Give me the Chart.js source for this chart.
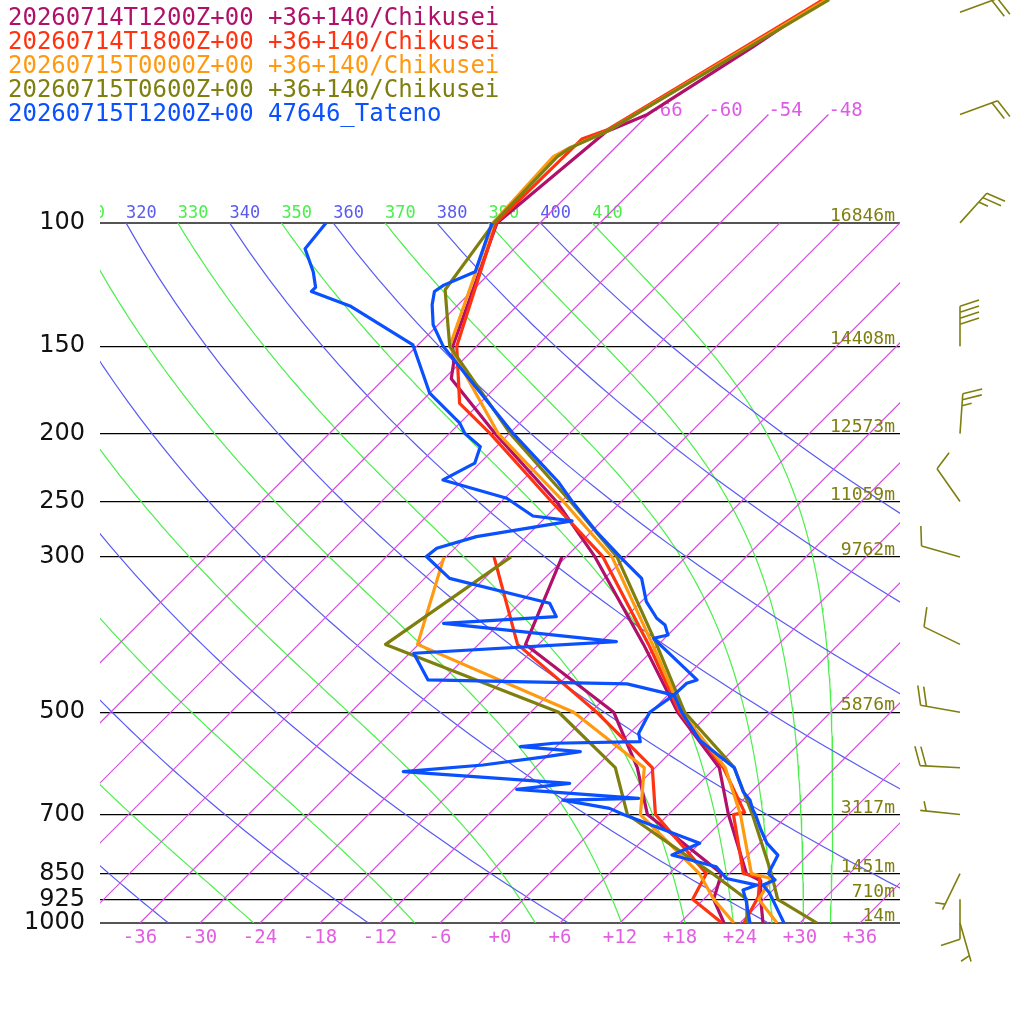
<!DOCTYPE html>
<html>
<head>
<meta charset="utf-8">
<title>Skew-T Chikusei / Tateno</title>
<script src="https://cdn.jsdelivr.net/npm/chart.js@4.4.1/dist/chart.umd.min.js"></script>
<style>
  html, body { margin: 0; padding: 0; background: #fff; }
  #wrap { width: 1024px; height: 1024px; position: relative; }
</style>
</head>
<body>
<div id="wrap"><canvas id="skewt"></canvas></div>
<script>
// ---- values ----
const pressureTicks = [100, 150, 200, 250, 300, 500, 700, 850, 925, 1000];
const heightLabels = ['16846m', '14408m', '12573m', '11059m', '9762m', '5876m', '3117m', '1451m', '710m', '14m'];
const tempTicks = [-36, -30, -24, -18, -12, -6, 0, 6, 12, 18, 24, 30, 36];
const isotherms = [-66, -60, -54, -48, -42, -36, -30, -24, -18, -12, -6, 0, 6, 12, 18, 24, 30, 36];
const labelledIsotherms = [-66, -60, -54, -48];
const dryAdiabats = [240, 260, 280, 300, 320, 340, 360, 380, 400];
const moistAdiabats = [250, 270, 290, 310, 330, 350, 370, 390, 410];

const seriesNames = [
  '20260714T1200Z+00 +36+140/Chikusei',
  '20260714T1800Z+00 +36+140/Chikusei',
  '20260715T0000Z+00 +36+140/Chikusei',
  '20260715T0600Z+00 +36+140/Chikusei',
  '20260715T1200Z+00 47646_Tateno'
];
const seriesColors = ['#b0106a', '#ff3311', '#ff9910', '#7f7f10', '#0a50ff'];

// model temperature profiles (hPa, degC)
const run1P = [48, 56, 70, 74.1, 100, 150, 158.7, 166.9, 200, 250, 300, 400, 500, 600, 700, 850, 870, 925, 1000];
const run1T = [-60.0, -62.3, -66.1, -68.5, -70.3, -62.4, -60.6, -59.3, -49.4, -36.5, -27.1, -13.5, -3.3, 6.4, 12.0, 19.7, 21.8, 23.7, 26.3];
const run2P = [48, 73.7, 75.9, 100, 150, 181, 200, 250, 300, 400, 500, 600, 695, 700, 850, 860, 917, 1000];
const run2T = [-60.0, -68.6, -70.2, -70.4, -62.0, -56.0, -49.9, -37.0, -26.3, -13.0, -3.1, 6.8, 13.4, 12.5, 19.4, 21.4, 23.2, 24.4];
const run3P = [48, 74.1, 78.2, 80.4, 100, 150, 200, 250, 300, 400, 500, 600, 700, 850, 864, 925, 1000];
const run3T = [-59.7, -68.5, -70.6, -71.3, -70.7, -62.7, -49.1, -35.8, -25.4, -12.6, -2.9, 7.0, 13.2, 20.2, 22.7, 23.5, 27.7];
const run4P = [48, 74.1, 78.2, 80.4, 100, 124.6, 135.3, 150, 200, 250, 300, 400, 500, 600, 700, 850, 925, 1000];
const run4T = [-59.4, -68.5, -70.5, -70.9, -70.6, -68.8, -66.1, -62.7, -47.9, -35.1, -24.9, -12.2, -2.6, 7.9, 14.4, 22.2, 25.4, 31.7];

// model dew points
const modelTdP = [300, 400, 500, 600, 700, 850, 925, 1000];
const run1Td = [-30.4, -25.3, -9.7, -1.8, 3.9, 17.2, 19.0, 22.4];
const run2Td = [-37.2, -26.1, -11.4, -0.3, 4.7, 15.7, 16.9, 22.2];
const run3Td = [-42.2, -36.1, -13.7, -1.1, 3.2, 15.0, 19.0, 23.4];
const run4Td = [-35.5, -39.3, -15.2, -4.0, 1.9, 16.3, 22.3, 24.7];

// Tateno sounding
const tatenoTP = [100, 117.4, 122.7, 125.3, 130.9, 139.8, 150.2, 200, 234.3, 251.5,
  276, 302.9, 321.9, 347.5, 367, 375.2, 387.8, 392, 398.5, 449.6,
  454.5, 472.3, 500, 548.2, 575.4, 600, 649.4, 667.4, 689.6, 700,
  736.5, 769, 800, 850, 868, 882.7, 907, 1000];
const tatenoT = [-70.8, -67.6, -69.4, -69.7, -68.6, -66.5, -63.3, -47.6, -38.3, -34.6,
  -29.5, -24.0, -20.3, -17.5, -14.8, -13.3, -12.0, -13.1, -12.1, -4.6,
  -5.3, -5.4, -2.9, 1.7, 5.0, 7.9, 11.2, 12.7, 14.0, 14.7,
  16.8, 18.7, 21.0, 21.9, 23.2, 22.5, 24.0, 28.4];
const tatenoTdP = [100, 108.9, 117.4, 123.6, 125.3, 131.4, 149.4, 175.1, 193.2, 199.7,
  208.7, 220.4, 232.9, 247.3, 262.2, 266.5, 280.6, 291.5, 299.6, 321.9,
  349.4, 365.1, 373.3, 396.3, 411.8, 449.6, 455.5, 472.3, 480.1, 500,
  535.8, 550.8, 553.7, 559.8, 569.2, 578.6, 594.7, 608, 631.6, 644.3,
  663.7, 667.4, 686, 700, 769.3, 799.6, 831.1, 864, 882.7, 897,
  932.3, 1000];
const tatenoTd = [-87.4, -86.9, -83.8, -82.0, -82.0, -76.7, -66.5, -60.0, -54.0, -52.5,
  -49.6, -48.5, -50.0, -41.8, -37.4, -33.0, -41.0, -43.8, -44.0, -39.5,
  -27.0, -25.0, -35.6, -16.5, -35.6, -31.5, -11.2, -5.5, -5.6, -6.1,
  -5.1, -4.1, -12.6, -15.6, -9.1, -12.0, -17.5, -24.8, -7.0, -11.7,
  1.4, -6.0, -0.5, 1.5, 12.0, 10.4, 16.0, 18.2, 21.9, 21.0,
  22.5, 25.0];

// wind barbs (hPa, direction deg, knots)
const windP = [50, 70, 100, 150, 200, 250, 300, 400, 500, 600, 700, 850, 925, 1000];
const windDir = [70, 70, 42, 0, 4, 325, 286, 296, 280, 273, 276, 206, 180, 164];
const windKt = [20, 20, 25, 40, 25, 10, 10, 10, 20, 20, 5, 5, 10, 5];

// ---- skew-T helpers ----
const SKEW = 70;          // x units per decade of pressure (45 deg)
const P_TOP = 48.04;
const skewX = (t, p) => t + SKEW * Math.log10(1000 / p);
const profile = (ps, ts) => ps.map((p, i) => ({ x: skewX(ts[i], p), y: p }));

function dryLine(theta) {
  const pts = [];
  for (let p = 100; p <= 1000; p += 10) {
    pts.push({ x: skewX(theta * Math.pow(p / 1000, 0.2857) - 273.15, p), y: p });
  }
  return pts;
}

// pseudo-adiabat, integrated down from 100 hPa
function moistLine(theta) {
  const Rd = 287.04, cp = 1005.7, Lv = 2.501e6, eps = 0.622;
  const slope = (T, p) => {
    const es = 6.112 * Math.exp(17.67 * (T - 273.15) / (T - 29.65));
    const rs = eps * es / (p - es);
    return (Rd * T + Lv * rs) / (cp + Lv * Lv * rs * eps / (Rd * T * T));
  };
  const steps = 120, h = Math.log(10) / steps;
  let lnp = Math.log(100), T = theta * Math.pow(0.1, 0.2857);
  const pts = [];
  for (let i = 0; i <= steps; i++) {
    const p = Math.exp(lnp);
    pts.push({ x: skewX(T - 273.15, p), y: Math.min(p, 1000) });
    const k1 = slope(T, p);
    const k2 = slope(T + h / 2 * k1, Math.exp(lnp + h / 2));
    const k3 = slope(T + h / 2 * k2, Math.exp(lnp + h / 2));
    const k4 = slope(T + h * k3, Math.exp(lnp + h));
    T += h / 6 * (k1 + 2 * k2 + 2 * k3 + k4);
    lnp += h;
  }
  return pts;
}

const bgLine = (data, color) => ({
  data, borderColor: color, borderWidth: 1.2, pointRadius: 0,
  showLine: true, order: 10, clip: 0
});
const proLine = (data, color, order) => ({
  data, borderColor: color, borderWidth: 3.2, pointRadius: 0,
  showLine: true, order, clip: 0, borderJoinStyle: 'round'
});

const datasets = [];
// profiles: blue drawn on top
datasets.push(proLine(profile(tatenoTP, tatenoT), seriesColors[4], 1));
datasets.push(proLine(profile(tatenoTdP, tatenoTd), seriesColors[4], 1));
datasets.push(proLine(profile(run4P, run4T), seriesColors[3], 2));
datasets.push(proLine(profile(modelTdP, run4Td), seriesColors[3], 2));
datasets.push(proLine(profile(run3P, run3T), seriesColors[2], 3));
datasets.push(proLine(profile(modelTdP, run3Td), seriesColors[2], 3));
datasets.push(proLine(profile(run2P, run2T), seriesColors[1], 4));
datasets.push(proLine(profile(modelTdP, run2Td), seriesColors[1], 4));
datasets.push(proLine(profile(run1P, run1T), seriesColors[0], 5));
datasets.push(proLine(profile(modelTdP, run1Td), seriesColors[0], 5));

isotherms.forEach(t => {
  const top = labelledIsotherms.includes(t) ? 70 : 100;
  datasets.push(bgLine([{ x: skewX(t, top), y: top }, { x: t, y: 1000 }], '#d24ee0'));
});
dryAdiabats.forEach(th => datasets.push(bgLine(dryLine(th), '#5a5af2')));
moistAdiabats.forEach(th => datasets.push(bgLine(moistLine(th), '#4cee4c')));

// ---- labels, legend and wind barbs ----
const overlay = {
  id: 'overlay',
  beforeDatasetsDraw(chart) {
    const { ctx, chartArea, scales } = chart;
    const x = scales.x, y = scales.y;
    ctx.save();
    ctx.beginPath();
    ctx.rect(chartArea.left, chartArea.top, chartArea.right - chartArea.left, chartArea.bottom - chartArea.top);
    ctx.clip();
    ctx.textAlign = 'left';
    ctx.textBaseline = 'alphabetic';
    // adiabat labels along 100 hPa
    ctx.font = '17px "DejaVu Sans Mono"';
    const y100 = y.getPixelForValue(100) - 5;
    dryAdiabats.forEach(th => {
      ctx.fillStyle = '#5a5af2';
      ctx.fillText(String(th), x.getPixelForValue(skewX(th * Math.pow(0.1, 0.2857) - 273.15, 100)), y100);
    });
    moistAdiabats.forEach(th => {
      ctx.fillStyle = '#4cee4c';
      ctx.fillText(String(th), x.getPixelForValue(skewX(th * Math.pow(0.1, 0.2857) - 273.15, 100)), y100);
    });
    // isotherm labels at 70 hPa
    ctx.font = '19px "DejaVu Sans Mono"';
    ctx.fillStyle = '#dd5ae6';
    labelledIsotherms.forEach(t => {
      ctx.fillText(String(t), x.getPixelForValue(skewX(t, 70)), y.getPixelForValue(70) + 2);
    });
    ctx.restore();
  },
  afterDraw(chart) {
    const { ctx, chartArea, scales } = chart;
    const y = scales.y;
    ctx.save();
    // geopotential heights
    ctx.font = '18px "DejaVu Sans Mono"';
    ctx.fillStyle = '#7f7f10';
    ctx.textAlign = 'right';
    ctx.textBaseline = 'alphabetic';
    pressureTicks.forEach((p, i) => {
      ctx.fillText(heightLabels[i], chartArea.right - 5, y.getPixelForValue(p) - 2);
    });
    // legend
    ctx.font = '24px "DejaVu Sans Mono"';
    ctx.textAlign = 'left';
    seriesNames.forEach((name, i) => {
      ctx.fillStyle = seriesColors[i];
      ctx.fillText(name, 8, 25 + i * 24);
    });
    // wind barbs
    ctx.strokeStyle = '#7f7f10';
    ctx.lineWidth = 1.6;
    const bx0 = chartArea.right + 60;
    const rot = 72 * Math.PI / 180;
    windP.forEach((p, i) => {
      const y0 = y.getPixelForValue(p);
      const a = windDir[i] * Math.PI / 180;
      const ux = Math.sin(a), uy = -Math.cos(a);
      const L = 40;
      const vx = ux * Math.cos(rot) - uy * Math.sin(rot);
      const vy = ux * Math.sin(rot) + uy * Math.cos(rot);
      ctx.beginPath();
      ctx.moveTo(bx0, y0);
      ctx.lineTo(bx0 + ux * L, y0 + uy * L);
      const full = Math.floor(windKt[i] / 10);
      const half = (windKt[i] % 10) >= 5;
      let d = (full === 0 && half) ? L - 6 : L;
      for (let k = 0; k < full; k++) {
        const sx = bx0 + ux * d, sy = y0 + uy * d;
        ctx.moveTo(sx, sy);
        ctx.lineTo(sx + vx * 20, sy + vy * 20);
        d -= 6;
      }
      if (half) {
        const sx = bx0 + ux * d, sy = y0 + uy * d;
        ctx.moveTo(sx, sy);
        ctx.lineTo(sx + vx * 10, sy + vy * 10);
      }
      ctx.stroke();
    });
    ctx.restore();
  }
};

Chart.defaults.font.family = '"DejaVu Sans Mono"';

new Chart(document.getElementById('skewt'), {
  type: 'scatter',
  data: { datasets },
  options: {
    responsive: true,
    maintainAspectRatio: false,
    animation: false,
    events: [],
    layout: { padding: { left: 0, right: 124, top: 0, bottom: 0 } },
    plugins: { legend: { display: false }, tooltip: { enabled: false } },
    scales: {
      x: {
        type: 'linear',
        min: -40,
        max: 40,
        grid: { display: false },
        border: { display: false },
        afterBuildTicks: scale => { scale.ticks = tempTicks.map(v => ({ value: v })); },
        afterFit: scale => {
          scale.height = 101;
          scale.paddingLeft = 0; scale.paddingRight = 0;
          scale.paddingTop = 0; scale.paddingBottom = 0;
        },
        ticks: {
          padding: -4,
          color: '#e060e0',
          font: { size: 19, family: '"DejaVu Sans Mono"' },
          callback: v => (v >= 0 ? '+' : '') + v
        }
      },
      y: {
        type: 'logarithmic',
        reverse: true,
        min: P_TOP,
        max: 1000,
        border: { display: false },
        grid: {
          drawTicks: false,
          color: ctx => (ctx.tick && (ctx.tick.value === 100 || ctx.tick.value === 1000)) ? '#555' : '#000',
          lineWidth: ctx => (ctx.tick && (ctx.tick.value === 100 || ctx.tick.value === 1000)) ? 2 : 1.3
        },
        afterBuildTicks: scale => { scale.ticks = pressureTicks.map(v => ({ value: v })); },
        afterFit: scale => {
          scale.width = 100;
          scale.paddingLeft = 0; scale.paddingRight = 0;
          scale.paddingTop = 0; scale.paddingBottom = 0;
        },
        ticks: {
          padding: 15,
          color: '#111',
          font: { size: 24, family: '"DejaVu Sans"' },
          callback: v => String(v)
        }
      }
    }
  },
  plugins: [overlay]
});
</script>
</body>
</html>
